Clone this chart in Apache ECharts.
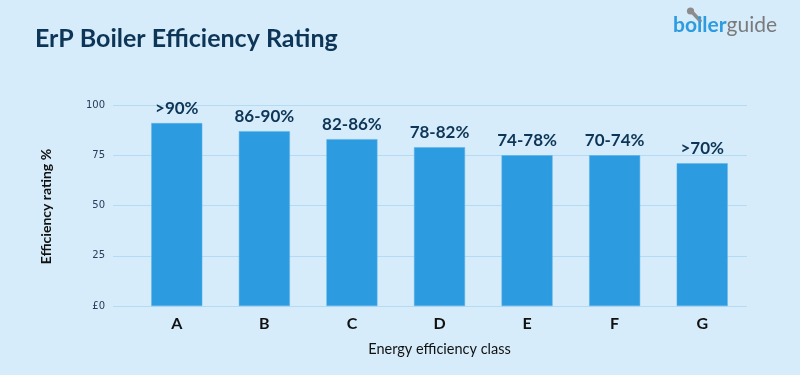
<!DOCTYPE html>
<html>
<head>
<meta charset="utf-8">
<script src="https://cdn.jsdelivr.net/npm/echarts@6/dist/echarts.min.js"></script>
<style>
html,body{margin:0;padding:0;background:#D6ECFA;}
#c{width:800px;height:375px;}
</style>
</head>
<body>
<div id="c"></div>
<script>
const categories = ['A','B','C','D','E','F','G'];
const values = [91, 87, 83, 79, 75, 75, 71];
const rangeLabels = ['>90%','86-90%','82-86%','78-82%','74-78%','70-74%','>70%'];
const yTicks = [0, 25, 50, 75, 100];

const chart = echarts.init(document.getElementById('c'));
const option = {
  backgroundColor: '#D6ECFA',
  animation: false,
  title: {
    text: 'ErP Boiler Efficiency Rating',
    left: 30, top: 21,
    textStyle: {fontFamily: 'Lato', fontWeight: 'bold', fontSize: 25, color: '#0D3557'}
  },
  graphic: [
    {
      type: 'circle', shape: {cx: 690.5, cy: 11, r: 3.6},
      style: {fill: '#8C8C8C'}
    },
    {
      type: 'rect', shape: {x: -1.8, y: 0, width: 3.6, height: 15, r: 1.5},
      x: 691, y: 11, rotation: 0.75,
      style: {fill: '#8C8C8C'}
    },
    {
      type: 'text', left: 673, top: 15,
      style: {
        rich: {
          b: {fontFamily: 'Lato', fontWeight: 'bold', fontSize: 21, fill: '#2D9BE0'},
          g: {fontFamily: 'Lato', fontSize: 21, fill: '#7A7A7A'}
        },
        text: '{b|boiler}{g|guide}'
      }
    },
    {
      type: 'text', x: 46, y: 206.5, rotation: Math.PI / 2,
      style: {
        text: 'Efficiency rating %', align: 'center', verticalAlign: 'middle',
        fontFamily: 'Lato', fontWeight: 'bold', fontSize: 14, fill: '#111111'
      }
    }
  ],
  grid: [
    {left: 113, right: 53, top: 105, bottom: 69},
    {left: 133, right: 54, top: 105, bottom: 69}
  ],
  xAxis: [
    {type: 'category', gridIndex: 0, data: categories, show: false},
    {
      type: 'category', gridIndex: 1, data: categories,
      axisLine: {show: false}, axisTick: {show: false},
      axisLabel: {margin: 10, fontFamily: 'Lato', fontWeight: 'bold', fontSize: 16, color: '#111111'},
      name: 'Energy efficiency class', nameLocation: 'middle', nameGap: 36,
      nameTextStyle: {fontFamily: 'Lato', fontSize: 14.5, color: '#111111'}
    }
  ],
  yAxis: [
    {
      type: 'value', gridIndex: 0, min: 0, max: 100, interval: 25,
      axisLine: {show: false}, axisTick: {show: false},
      splitLine: {lineStyle: {color: '#B3DBF3', width: 1}},
      axisLabel: {
        margin: 8, fontFamily: 'DejaVu Sans', fontSize: 10, color: '#2A3A5C',
        formatter: function (v) { return v === yTicks[0] ? '£0' : String(v); }
      }
    },
    {type: 'value', gridIndex: 1, min: 0, max: 100, interval: 25, show: false}
  ],
  series: [{
    type: 'bar', xAxisIndex: 1, yAxisIndex: 1,
    data: values, barWidth: 51,
    itemStyle: {color: '#2D9BE0', borderColor: '#5AB3EA', borderWidth: 0.5},
    label: {
      show: true, position: 'top', distance: 6,
      formatter: function (p) { return rangeLabels[p.dataIndex]; },
      fontFamily: 'Lato', fontWeight: 'bold', fontSize: 17, color: '#0D3557'
    }
  }]
};
chart.setOption(option);
</script>
</body>
</html>
